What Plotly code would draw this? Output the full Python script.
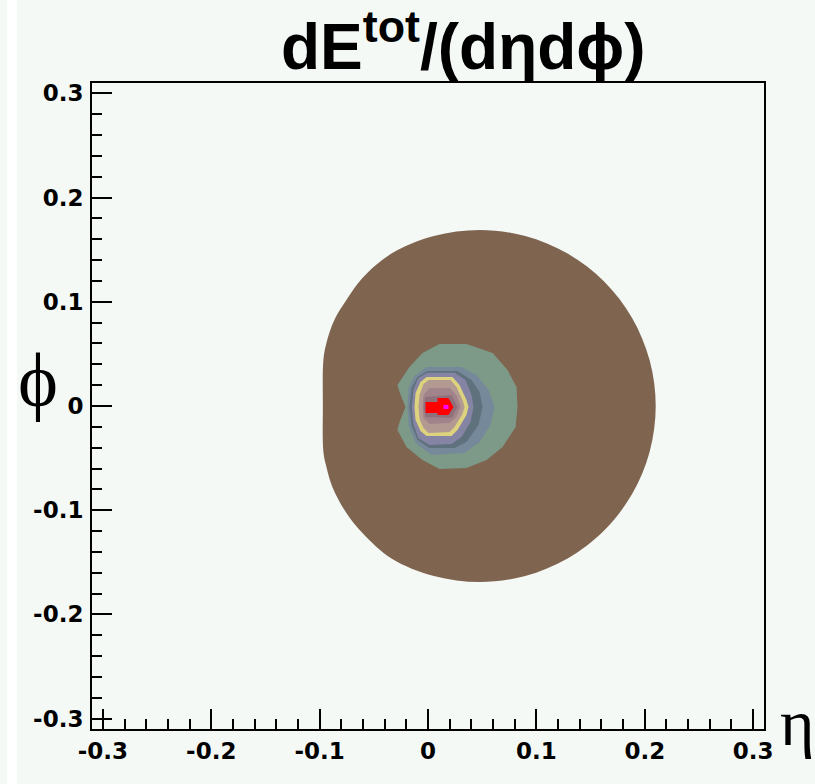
import plotly.graph_objects as go

# ---- contour bands of dE/(d eta d phi), outermost (lowest) to innermost (highest)
# each band: boundary polygon (eta, phi)
band1_eta = [0.2101, 0.2045, 0.1883, 0.1625, 0.1288, 0.0897, 0.0476, 0.0054, -0.0337, -0.0605,
             -0.0753, -0.0864, -0.0937, -0.0965, -0.0970, -0.0965, -0.0937, -0.0882, -0.0753,
             -0.0605, -0.0337, 0.0054, 0.0476, 0.0897, 0.1288, 0.1625, 0.1883, 0.2045]
band1_phi = [0.0000, 0.0438, 0.0845, 0.1195, 0.1463, 0.1631, 0.1689, 0.1631, 0.1463, 0.1228,
             0.1017, 0.0825, 0.0605, 0.0441, 0.0000, -0.0441, -0.0585, -0.0777, -0.1027,
             -0.1219, -0.1463, -0.1631, -0.1689, -0.1631, -0.1463, -0.1195, -0.0845, -0.0438]

band2_eta = [0.0106, 0.0355, 0.0596, 0.0734, 0.0817, 0.0826, 0.0808, 0.0688, 0.0540, 0.0355,
             0.0106, -0.0051, -0.0199, -0.0282, -0.0263, -0.0208, -0.0263, -0.0282, -0.0171, -0.0051]
band2_phi = [0.0595, 0.0595, 0.0509, 0.0345, 0.0182, -0.0010, -0.0202, -0.0393, -0.0518, -0.0595,
             -0.0605, -0.0518, -0.0393, -0.0230, -0.0154, -0.0010, 0.0134, 0.0202, 0.0374, 0.0509]

band3_eta = [-0.0014, 0.0309, 0.0448, 0.0559, 0.0614, 0.0577, 0.0476, 0.0337, 0.0032, -0.0115,
             -0.0180, -0.0189, -0.0180, -0.0125]
band3_phi = [0.0374, 0.0374, 0.0298, 0.0154, -0.0010, -0.0182, -0.0345, -0.0451, -0.0470, -0.0355,
             -0.0182, -0.0010, 0.0173, 0.0288]

band4_eta = [-0.0005, 0.0272, 0.0402, 0.0476, 0.0503, 0.0466, 0.0355, 0.0245, 0.0014, -0.0097,
             -0.0152, -0.0171, -0.0152, -0.0097]
band4_phi = [0.0336, 0.0336, 0.0250, 0.0134, -0.0010, -0.0182, -0.0345, -0.0403, -0.0403, -0.0326,
             -0.0182, -0.0010, 0.0173, 0.0278]

band5_eta = [-0.0005, 0.0245, 0.0346, 0.0402, 0.0420, 0.0392, 0.0309, 0.0217, 0.0014, -0.0090,
             -0.0135, -0.0150, -0.0135, -0.0090]
band5_phi = [0.0320, 0.0320, 0.0250, 0.0106, -0.0010, -0.0154, -0.0298, -0.0365, -0.0374, -0.0307,
             -0.0173, -0.0010, 0.0154, 0.0269]

band6_eta = [-0.0014, 0.0226, 0.0291, 0.0355, 0.0374, 0.0355, 0.0272, 0.0217, -0.0014, -0.0069,
             -0.0115, -0.0125, -0.0115, -0.0069]
band6_phi = [0.0278, 0.0278, 0.0202, 0.0058, -0.0010, -0.0086, -0.0230, -0.0288, -0.0288, -0.0240,
             -0.0134, -0.0010, 0.0125, 0.0230]

band7_eta = [0.0005, 0.0208, 0.0263, 0.0318, 0.0337, 0.0318, 0.0245, 0.0199, 0.0005, -0.0042,
             -0.0078, -0.0088, -0.0078, -0.0042]
band7_phi = [0.0250, 0.0250, 0.0182, 0.0058, -0.0010, -0.0077, -0.0202, -0.0250, -0.0259, -0.0211,
             -0.0125, -0.0010, 0.0106, 0.0211]

band8_eta = [0.0014, 0.0199, 0.0263, 0.0300, 0.0263, 0.0199, 0.0014, -0.0042, -0.0051, -0.0042]
band8_phi = [0.0173, 0.0173, 0.0106, -0.0010, -0.0106, -0.0163, -0.0173, -0.0115, -0.0010, 0.0106]

band9_eta = [-0.0023, 0.0217, 0.0272, 0.0217, -0.0023, -0.0042]
band9_phi = [0.0086, 0.0106, -0.0010, -0.0115, -0.0106, -0.0010]

band10_eta = [-0.0023, 0.0088, 0.0088, 0.0189, 0.0235, 0.0189, 0.0088, 0.0088, -0.0023]
band10_phi = [0.0038, 0.0038, 0.0077, 0.0077, -0.0010, -0.0086, -0.0086, -0.0067, -0.0067]

band11_eta = [0.0143, 0.0189, 0.0189, 0.0143]
band11_phi = [0.0010, 0.0010, -0.0029, -0.0029]

bands_eta = [band1_eta, band2_eta, band3_eta, band4_eta, band5_eta, band6_eta,
             band7_eta, band8_eta, band9_eta, band10_eta, band11_eta]
bands_phi = [band1_phi, band2_phi, band3_phi, band4_phi, band5_phi, band6_phi,
             band7_phi, band8_phi, band9_phi, band10_phi, band11_phi]

band_colors = ["#7f6450", "#7d9a88", "#76899a", "#5f717c", "#8584a4", "#ddd27e",
               "#b29a93", "#a0838b", "#8f717c", "#ff0000", "#ff00ff"]
band_shapes = ["spline"] + ["linear"] * 10

x_range = [-0.31, 0.31]
y_range = [-0.31, 0.31]
tick_vals = [-0.3, -0.2, -0.1, 0, 0.1, 0.2, 0.3]
tick_text = ["-0.3", "-0.2", "-0.1", "0", "0.1", "0.2", "0.3"]

BG = "#f4f9f6"

fig = go.Figure()
for ex, ph, col, shp in zip(bands_eta, bands_phi, band_colors, band_shapes):
    fig.add_trace(go.Scatter(
        x=ex + [ex[0]], y=ph + [ph[0]], mode="lines", fill="toself",
        fillcolor=col, line=dict(width=0, color=col, shape=shp, smoothing=1.0),
        hoverinfo="skip", showlegend=False))

axis_common = dict(
    showgrid=False, zeroline=False, showline=True, linecolor="black", linewidth=2,
    mirror=True, ticks="inside", ticklen=20, tickwidth=1.5, tickcolor="black",
    tickvals=tick_vals, ticktext=tick_text,
    tickfont=dict(family="DejaVu Sans", size=23, color="black", weight="bold"),
    minor=dict(dtick=0.02, tick0=0, ticks="inside", ticklen=10, tickwidth=1.5,
               tickcolor="black", showgrid=False),
)

fig.update_xaxes(range=x_range, **axis_common)
fig.update_yaxes(range=y_range, ticklabelstandoff=2, **axis_common)

fig.update_layout(
    width=815, height=784,
    margin=dict(l=92, r=51, t=83, b=55),
    paper_bgcolor=BG, plot_bgcolor=BG,
    annotations=[
        dict(text="<b>dE<sup>tot</sup>/(dηdϕ)</b>", xref="paper", yref="paper",
             x=0.553, y=1.063, xanchor="center", yanchor="middle", showarrow=False,
             font=dict(family="Liberation Sans", size=64, color="black")),
        dict(text="ϕ", xref="paper", yref="paper", x=-0.081, y=0.541,
             xanchor="center", yanchor="middle", showarrow=False,
             font=dict(family="Liberation Serif", size=76, color="black")),
        dict(text="η", xref="paper", yref="paper", x=1.050, y=0.010,
             xanchor="center", yanchor="middle", showarrow=False,
             font=dict(family="Liberation Serif", size=66, color="black")),
    ],
    shapes=[dict(type="rect", xref="paper", yref="paper",
                 x0=(7 - 92) / 672, x1=(17 - 92) / 672, y0=-55 / 646, y1=1 + 83 / 646,
                 fillcolor="white", line=dict(width=0), layer="below")],
)

fig.write_html("out.html")
